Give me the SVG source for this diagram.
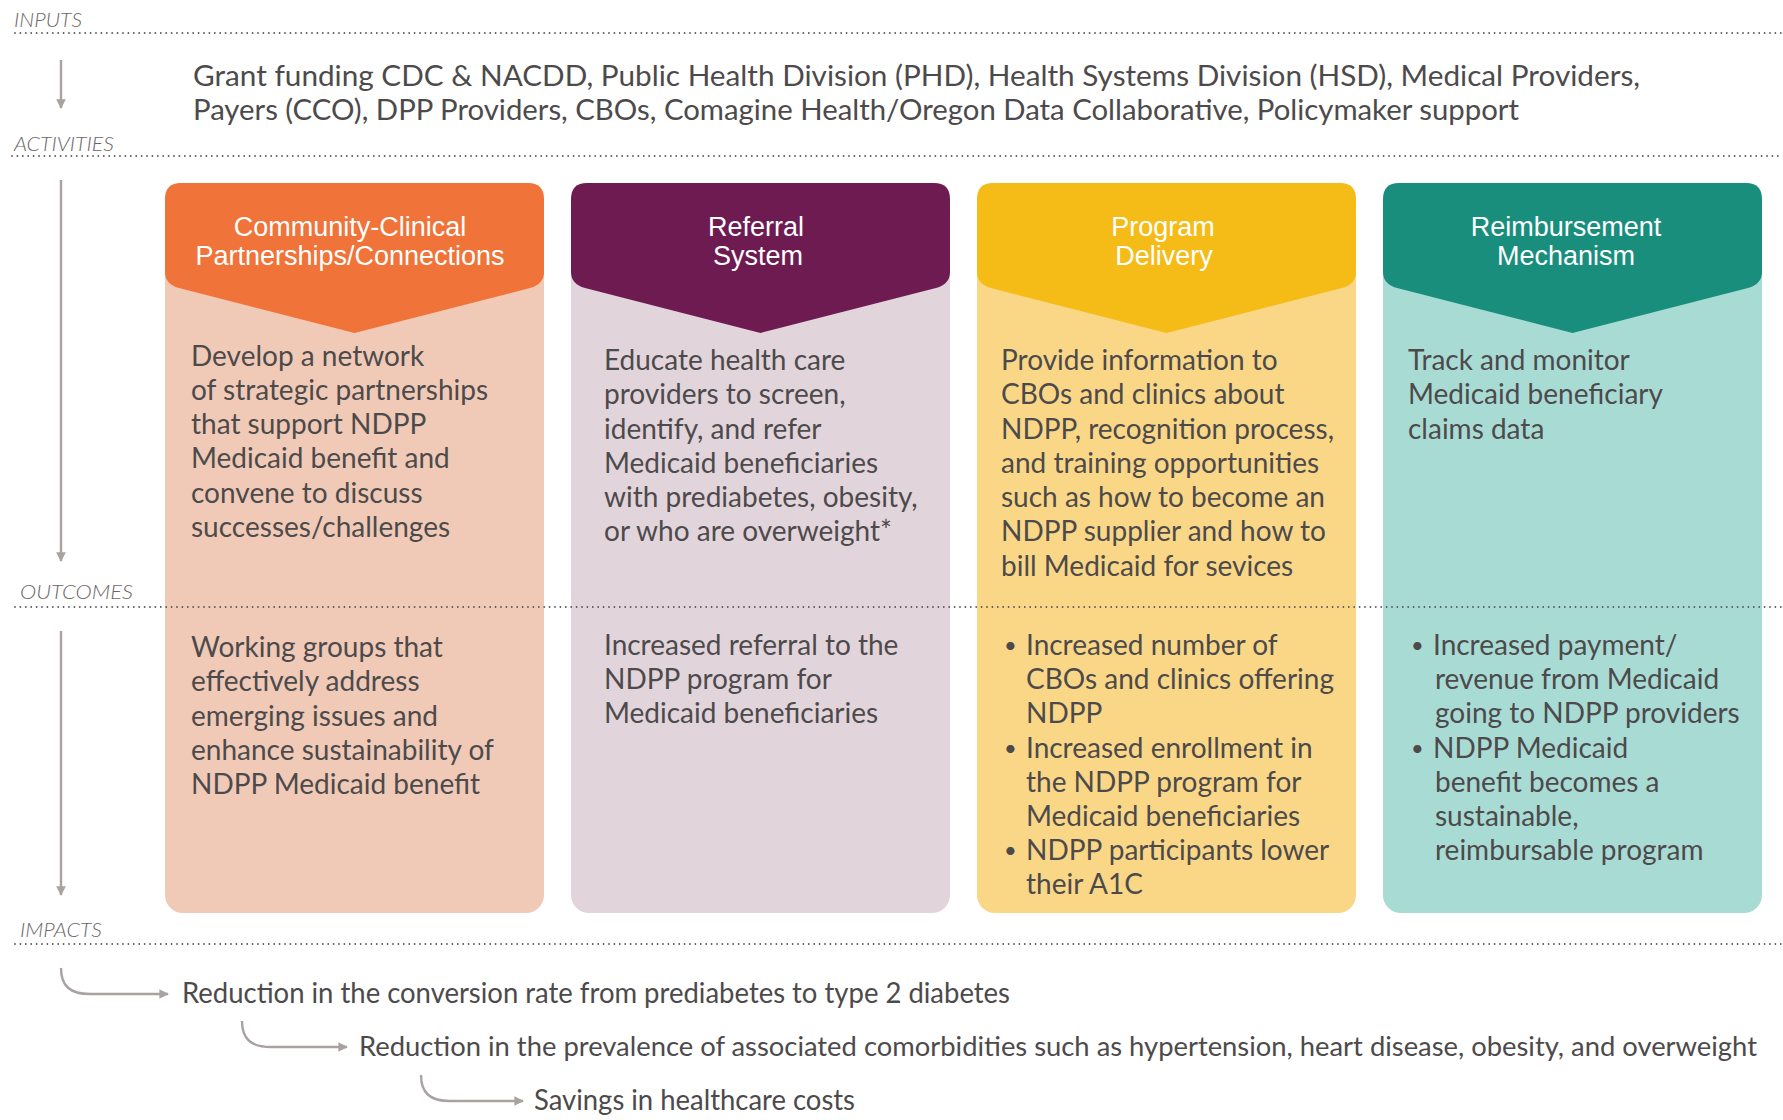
<svg xmlns="http://www.w3.org/2000/svg" width="1783" height="1120" viewBox="0 0 1783 1120">
  <style>
    .sec { font-family: Lato, "Liberation Sans", sans-serif; font-style: italic; font-weight: 300; font-size: 19px; fill: #6b6667; }
    .dots { stroke: #5a5758; stroke-width: 1.8; stroke-linecap: round; stroke-dasharray: 0 5.4; fill: none; }
    .flow { stroke: #aaa2a1; stroke-width: 2.4; fill: none; }
    .hd { font-family: "Liberation Sans", Arial, sans-serif; font-size: 27px; fill: #ffffff; text-anchor: middle; }
    .tx { font-family: Lato, "Liberation Sans", sans-serif; font-size: 28px; fill: #4d4a4b; }
    .big { font-family: Lato, "Liberation Sans", sans-serif; font-size: 29px; fill: #4d4a4b; }
    .bul { font-family: Lato, "Liberation Sans", sans-serif; font-size: 22px; fill: #4d4a4b; }
  </style>
  <defs>
    <marker id="arr" viewBox="0 0 10 10" refX="9" refY="5" markerWidth="4" markerHeight="4" orient="auto" markerUnits="strokeWidth">
      <path d="M0,0 L10,5 L0,10 Z" fill="#aaa2a1"/>
    </marker>
  </defs>

  <rect width="1783" height="1120" fill="#ffffff"/>

  <!-- section labels -->
  <g id="labels">
    <text class="sec" x="14" y="27" textLength="68" lengthAdjust="spacingAndGlyphs">INPUTS</text>
    <text class="sec" x="14" y="151" textLength="100" lengthAdjust="spacingAndGlyphs">ACTIVITIES</text>
    <text class="sec" x="20" y="599" textLength="113" lengthAdjust="spacingAndGlyphs">OUTCOMES</text>
    <text class="sec" x="20" y="937" textLength="82" lengthAdjust="spacingAndGlyphs">IMPACTS</text>
  </g>

  <!-- inputs -->
  <g id="inputs">
    <text class="big" x="193" y="86" textLength="1447" lengthAdjust="spacingAndGlyphs">Grant funding CDC &amp; NACDD, Public Health Division (PHD), Health Systems Division (HSD), Medical Providers,</text>
    <text class="big" x="193" y="120" textLength="1326" lengthAdjust="spacingAndGlyphs">Payers (CCO), DPP Providers, CBOs, Comagine Health/Oregon Data Collaborative, Policymaker support</text>
  </g>

  <!-- column 1: community-clinical partnerships -->
  <g id="col-partnerships">
    <rect x="165" y="183" width="379" height="730" rx="18" fill="#f0cab7"/>
    <path d="M165,199 Q165,183 181,183 H528 Q544,183 544,199 V272 Q544,284 530,288 L354.5,333 L179,288 Q165,284 165,272 Z" fill="#f07339"/>
    <text class="hd" x="350" y="236">Community-Clinical</text>
    <text class="hd" x="350" y="265">Partnerships/Connections</text>
    <text class="tx">
      <tspan x="191" y="366">Develop a network</tspan>
      <tspan x="191" y="400">of strategic partnerships</tspan>
      <tspan x="191" y="434">that support NDPP</tspan>
      <tspan x="191" y="468">Medicaid benefit and</tspan>
      <tspan x="191" y="503">convene to discuss</tspan>
      <tspan x="191" y="537">successes/challenges</tspan>
    </text>
    <text class="tx">
      <tspan x="191" y="657">Working groups that</tspan>
      <tspan x="191" y="691">effectively address</tspan>
      <tspan x="191" y="726">emerging issues and</tspan>
      <tspan x="191" y="760">enhance sustainability of</tspan>
      <tspan x="191" y="794">NDPP Medicaid benefit</tspan>
    </text>
  </g>

  <!-- column 2: referral system -->
  <g id="col-referral">
    <rect x="571" y="183" width="379" height="730" rx="18" fill="#e2d4db"/>
    <path d="M571,199 Q571,183 587,183 H934 Q950,183 950,199 V272 Q950,284 936,288 L760.5,333 L585,288 Q571,284 571,272 Z" fill="#6e1b52"/>
    <text class="hd" x="756" y="236">Referral</text>
    <text class="hd" x="758" y="265">System</text>
    <text class="tx">
      <tspan x="604" y="370">Educate health care</tspan>
      <tspan x="604" y="404">providers to screen,</tspan>
      <tspan x="604" y="439">identify, and refer</tspan>
      <tspan x="604" y="473">Medicaid beneficiaries</tspan>
      <tspan x="604" y="507">with prediabetes, obesity,</tspan>
      <tspan x="604" y="541">or who are overweight*</tspan>
    </text>
    <text class="tx">
      <tspan x="604" y="655">Increased referral to the</tspan>
      <tspan x="604" y="689">NDPP program for</tspan>
      <tspan x="604" y="723">Medicaid beneficiaries</tspan>
    </text>
  </g>

  <!-- column 3: program delivery -->
  <g id="col-delivery">
    <rect x="977" y="183" width="379" height="730" rx="18" fill="#f9d787"/>
    <path d="M977,199 Q977,183 993,183 H1340 Q1356,183 1356,199 V272 Q1356,284 1342,288 L1166.5,333 L991,288 Q977,284 977,272 Z" fill="#f5bc18"/>
    <text class="hd" x="1163" y="236">Program</text>
    <text class="hd" x="1164" y="265">Delivery</text>
    <text class="tx">
      <tspan x="1001" y="370">Provide information to</tspan>
      <tspan x="1001" y="404">CBOs and clinics about</tspan>
      <tspan x="1001" y="439">NDPP, recognition process,</tspan>
      <tspan x="1001" y="473">and training opportunities</tspan>
      <tspan x="1001" y="507">such as how to become an</tspan>
      <tspan x="1001" y="541">NDPP supplier and how to</tspan>
      <tspan x="1001" y="576">bill Medicaid for sevices</tspan>
    </text>
    <text class="bul">
      <tspan x="1004" y="653">•</tspan>
      <tspan x="1004" y="756">•</tspan>
      <tspan x="1004" y="858">•</tspan>
    </text>
    <text class="tx">
      <tspan x="1026" y="655">Increased number of</tspan>
      <tspan x="1026" y="689">CBOs and clinics offering</tspan>
      <tspan x="1026" y="723">NDPP</tspan>
      <tspan x="1026" y="758">Increased enrollment in</tspan>
      <tspan x="1026" y="792">the NDPP program for</tspan>
      <tspan x="1026" y="826">Medicaid beneficiaries</tspan>
      <tspan x="1026" y="860">NDPP participants lower</tspan>
      <tspan x="1026" y="894">their A1C</tspan>
    </text>
  </g>

  <!-- column 4: reimbursement mechanism -->
  <g id="col-reimbursement">
    <rect x="1383" y="183" width="379" height="730" rx="18" fill="#a9dbd5"/>
    <path d="M1383,199 Q1383,183 1399,183 H1746 Q1762,183 1762,199 V272 Q1762,284 1748,288 L1572.5,333 L1397,288 Q1383,284 1383,272 Z" fill="#1a8e7d"/>
    <text class="hd" x="1566" y="236">Reimbursement</text>
    <text class="hd" x="1566" y="265">Mechanism</text>
    <text class="tx">
      <tspan x="1408" y="370">Track and monitor</tspan>
      <tspan x="1408" y="404">Medicaid beneficiary</tspan>
      <tspan x="1408" y="439">claims data</tspan>
    </text>
    <text class="bul">
      <tspan x="1411" y="653">•</tspan>
      <tspan x="1411" y="756">•</tspan>
    </text>
    <text class="tx">
      <tspan x="1433" y="655">Increased payment/</tspan>
      <tspan x="1435" y="689">revenue from Medicaid</tspan>
      <tspan x="1435" y="723">going to NDPP providers</tspan>
      <tspan x="1433" y="758">NDPP Medicaid</tspan>
      <tspan x="1435" y="792">benefit becomes a</tspan>
      <tspan x="1435" y="826">sustainable,</tspan>
      <tspan x="1435" y="860">reimbursable program</tspan>
    </text>
  </g>

  <!-- dotted section rules -->
  <g id="rules">
    <line class="dots" x1="15" y1="33" x2="1783" y2="33"/>
    <line class="dots" x1="12" y1="156" x2="1783" y2="156"/>
    <line class="dots" x1="15" y1="607" x2="1783" y2="607"/>
    <line class="dots" x1="15" y1="944" x2="1783" y2="944"/>
  </g>

  <!-- connectors -->
  <g id="connectors">
    <line class="flow" x1="61" y1="60" x2="61" y2="108" marker-end="url(#arr)"/>
    <line class="flow" x1="61" y1="180" x2="61" y2="561" marker-end="url(#arr)"/>
    <line class="flow" x1="61" y1="631" x2="61" y2="895" marker-end="url(#arr)"/>
    <path class="flow" d="M61,968 C61,986 70,994 90,994 L168,994" marker-end="url(#arr)"/>
    <path class="flow" d="M242,1021 C242,1039 251,1047 271,1047 L347,1047" marker-end="url(#arr)"/>
    <path class="flow" d="M421,1075 C421,1093 430,1101 450,1101 L523,1101" marker-end="url(#arr)"/>
  </g>

  <!-- impacts -->
  <g id="impacts">
    <text class="tx" x="182" y="1003" textLength="828" lengthAdjust="spacingAndGlyphs">Reduction in the conversion rate from prediabetes to type 2 diabetes</text>
    <text class="tx" x="359" y="1056" style="font-size:27px" textLength="1398" lengthAdjust="spacingAndGlyphs">Reduction in the prevalence of associated comorbidities such as hypertension, heart disease, obesity, and overweight</text>
    <text class="tx" x="534" y="1110" textLength="321" lengthAdjust="spacingAndGlyphs">Savings in healthcare costs</text>
  </g>
</svg>
